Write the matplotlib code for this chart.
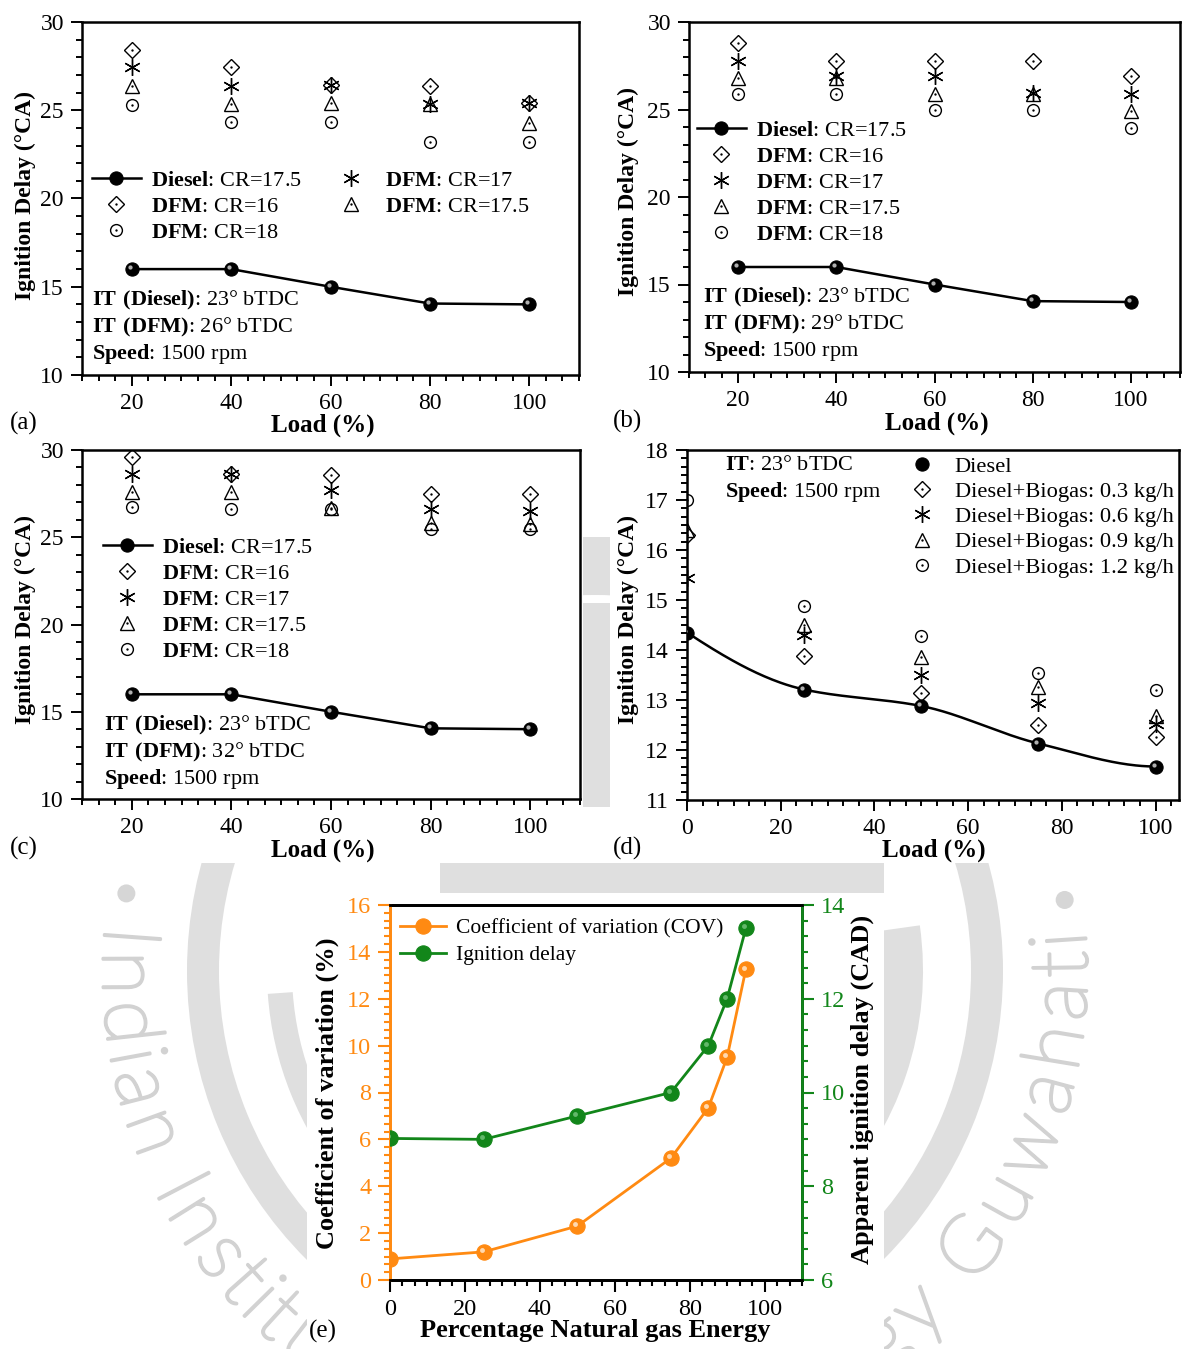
import numpy as np
import matplotlib
matplotlib.use('Agg')
import matplotlib.pyplot as plt
import matplotlib.patheffects as pe
from matplotlib.patches import Rectangle, Wedge, Circle
from matplotlib.ticker import MultipleLocator, AutoMinorLocator
from matplotlib.transforms import offset_copy
from matplotlib.textpath import TextToPath
from matplotlib.font_manager import FontProperties
from matplotlib.legend_handler import HandlerTuple

plt.rcParams['font.family'] = 'Liberation Serif'
plt.rcParams['mathtext.fontset'] = 'custom'
plt.rcParams['mathtext.rm'] = 'Liberation Serif'
plt.rcParams['mathtext.bf'] = 'Liberation Serif:bold'

W, H = 1182, 1349

##### (a)-(c): compression ratio sweep #####
load = [20, 40, 60, 80, 100]
diesel_cr175 = [16.0, 16.0, 15.0, 14.05, 14.0]

a_cr16 = [28.4, 27.45, 26.45, 26.4, 25.4]
a_cr17 = [27.45, 26.35, 26.45, 25.35, 25.4]
a_cr175 = [26.4, 25.35, 25.4, 25.35, 24.3]
a_cr18 = [25.3, 24.35, 24.35, 23.2, 23.2]

b_cr16 = [28.8, 27.8, 27.8, 27.8, 26.9]
b_cr17 = [27.8, 26.9, 26.9, 25.95, 25.9]
b_cr175 = [26.8, 26.8, 25.9, 25.9, 24.9]
b_cr18 = [25.9, 25.9, 24.95, 24.95, 23.95]

c_cr16 = [29.6, 28.65, 28.55, 27.5, 27.5]
c_cr17 = [28.6, 28.65, 27.7, 26.6, 26.5]
c_cr175 = [27.6, 27.6, 26.65, 25.8, 25.75]
c_cr18 = [26.75, 26.6, 26.6, 25.5, 25.5]

dfm_labels = ['CR=16', 'CR=17', 'CR=17.5', 'CR=18']
it_dfm = ['26', '29', '32']

##### (d): biogas flow #####
load_d = [0, 25, 50, 75, 100]
d_diesel = [14.35, 13.21, 12.88, 12.13, 11.67]
d_bg03 = [16.3, 13.88, 13.15, 12.51, 12.27]
d_bg06 = [15.45, 14.3, 13.51, 12.95, 12.53]
d_bg09 = [16.4, 14.51, 13.87, 13.27, 12.68]
d_bg12 = [17.0, 14.89, 14.28, 13.55, 13.21]
biogas_labels = ['0.3', '0.6', '0.9', '1.2']

##### (e): natural gas energy share #####
ng_energy = [0, 25, 50, 75, 85, 90, 95]
cov = [0.9, 1.2, 2.3, 5.2, 7.35, 9.5, 13.25]
ign_delay = [9.02, 9.0, 9.5, 10.0, 11.0, 12.0, 13.5]

ORANGE = '#ff8a12'
GREEN = '#12861a'
LEG_FS = 16

fig = plt.figure(figsize=(W / 100, H / 100), dpi=100)


def px_axes(l, t, r, b, **kw):
    return fig.add_axes([l / W, 1 - b / H, (r - l) / W, (b - t) / H], **kw)


def px_text(x, y, s, **kw):
    kw.setdefault('ha', 'center')
    kw.setdefault('va', 'center')
    return fig.text(x / W, 1 - y / H, s, **kw)


# background logo, drawn in pixel coordinates behind every panel
wm = px_axes(0, 0, W, H, zorder=-5)
wm.set_xlim(0, W)
wm.set_ylim(H, 0)
wm.axis('off')
GREY = '#dfdfdf'
cx, cy = 595, 971
wm.add_patch(Wedge((cx, cy), 408, 0, 360, width=32, color=GREY, lw=0))
wm.add_patch(Wedge((cx, cy), 328, 140, 176, width=25, color=GREY, lw=0))
wm.add_patch(Wedge((cx, cy), 328, -8, 45, width=40, color=GREY, lw=0))
wm.add_patch(Rectangle((583, 537), 27, 43, color=GREY, lw=0))
wm.add_patch(Rectangle((583, 603), 27, 204, color=GREY, lw=0))
wm.add_patch(Rectangle((440, 863), 444, 30, color=GREY, lw=0))

seal = 'Indian Institute of Technology Guwahati'
SEAL_C = '#d2d2d2'
fp = FontProperties(family='Lato', weight='light', size=58)
t2p = TextToPath()
widths = [t2p.get_text_width_height_descent(seal[:k + 1], fp, ismath=False)[0] for k in range(len(seal))]
centers = []
for k, ch in enumerate(seal):
    cw = t2p.get_text_width_height_descent(ch, fp, ismath=False)[0] if ch != ' ' else 0
    centers.append(widths[k] - cw / 2)
centers = np.array(centers)
phi = np.radians(184.2 + (centers - centers[0]) / (centers[-1] - centers[0]) * (-3.8 - 184.2))
r_base = 492
for ch, p in zip(seal, phi):
    if ch == ' ':
        continue
    wm.text(cx + r_base * np.cos(p), cy + r_base * np.sin(p), ch,
            rotation=np.degrees(np.arctan2(np.cos(p), np.sin(p))), rotation_mode='anchor',
            ha='center', va='baseline', fontproperties=fp, color=SEAL_C,
            path_effects=[pe.withStroke(linewidth=2.2, foreground=SEAL_C)])
for ang in (189.4, -8.6):
    a = np.radians(ang)
    wm.add_patch(Circle((cx + 475 * np.cos(a), cy + 475 * np.sin(a)), 9, color='#d6d6d6', lw=0))

# white card behind each panel
for (l, t, r, b) in [(0, 0, 591, 438), (589, 0, 1182, 438), (0, 437, 583, 863),
                     (610, 437, 1182, 863), (307, 893, 884, 1349)]:
    wm.add_patch(Rectangle((l, t), r - l, b - t, color='white', lw=0, zorder=3))


def ball(ax, x, y, color, light, ms=9.5, line=True, lw=1.8):
    h, = ax.plot(x, y, ls='-' if line else 'none', color=color, lw=lw, marker='o', ms=ms,
                 mfc=color, mec=color, mew=0.8, zorder=4)
    tr = offset_copy(ax.transData, fig=fig, x=-1.4, y=1.4, units='points')
    ax.plot(x, y, ls='none', marker='o', ms=ms * 0.32, mfc=light, mec='none',
            transform=tr, zorder=5)
    return h


def hollow(ax, x, y, marker, ms):
    h, = ax.plot(x, y, ls='none', marker=marker, ms=ms, mfc='none', mec='k', mew=1.0, zorder=3)
    d, = ax.plot(x, y, ls='none', marker='o', ms=1.7, mfc='k', mec='none', zorder=3)
    return (h, d)


def star(ax, x, y):
    h, = ax.plot(x, y, ls='none', marker=(6, 2, 0), ms=12, mec='k', mew=1.0, zorder=3)
    return h


def frame(ax, lw=1.8):
    for s in ax.spines.values():
        s.set_linewidth(lw)
    ax.tick_params(which='both', direction='out', width=1.4, top=False, right=False)
    ax.tick_params(which='major', length=8, labelsize=17, pad=5)
    ax.tick_params(axis='x', which='major', pad=5)
    ax.tick_params(which='minor', length=4.5)


def load_panel(box, cr16, cr17, cr175, cr18, ncol, leg_xy, note_xy, it, tag, ylab_y, tag_y):
    ax = px_axes(*box)
    frame(ax)
    ax.set_xlim(10, 110)
    ax.set_ylim(10, 30)
    ax.xaxis.set_major_locator(MultipleLocator(20))
    ax.xaxis.set_minor_locator(AutoMinorLocator(6))
    ax.yaxis.set_major_locator(MultipleLocator(5))
    ax.yaxis.set_minor_locator(AutoMinorLocator(5))
    h0 = ball(ax, load, diesel_cr175, 'k', '#b0b0b0')
    h16 = hollow(ax, load, cr16, 'D', 8)
    h17 = star(ax, load, cr17)
    h175 = hollow(ax, load, cr175, '^', 9.5)
    h18 = hollow(ax, load, cr18, 'o', 8.5)
    labels = [r'$\bf{Diesel}$: CR=17.5'] + [r'$\bf{DFM}$: ' + s for s in dfm_labels]
    handles = [h0, h16, h17, h175, h18]
    if ncol == 2:
        order = [0, 1, 4, 2, 3]
        handles = [handles[i] for i in order]
        labels = [labels[i] for i in order]
    ax.legend(handles, labels, ncol=ncol, loc='upper left', frameon=False,
              bbox_to_anchor=(leg_xy[0] / W, 1 - leg_xy[1] / H), bbox_transform=fig.transFigure,
              borderpad=0, borderaxespad=0, handlelength=2.2, handletextpad=0.45,
              labelspacing=0.25, columnspacing=1.1, numpoints=1, fontsize=LEG_FS,
              handler_map={tuple: HandlerTuple(ndivide=1)})
    nx, ny = note_xy
    notes = [r'$\bf{IT\ (Diesel)}$: 23° bTDC', r'$\bf{IT\ (DFM)}$: ' + it + '° bTDC',
             r'$\bf{Speed}$: 1500 rpm']
    for k, s in enumerate(notes):
        px_text(nx, ny + 27 * k, s, ha='left', fontsize=LEG_FS)
    l, t, r, b = box
    px_text(25 if l < 300 else 628, ylab_y, 'Ignition Delay (°CA)', rotation=90,
            fontsize=17, fontweight='bold')
    px_text((l + r) / 2 - 8 if l < 300 else (l + r) / 2 + 2, tag_y + 2, 'Load (%)',
            fontsize=18, fontweight='bold')
    px_text(24 if l < 300 else 627, tag_y, tag, fontsize=18)
    return ax


load_panel((82, 22, 579, 375), a_cr16, a_cr17, a_cr175, a_cr18, 2, (92, 170), (92, 300),
           it_dfm[0], '(a)', 195, 423)
load_panel((689, 22, 1180, 372), b_cr16, b_cr17, b_cr175, b_cr18, 1, (697, 120), (703, 297),
           it_dfm[1], '(b)', 192, 421)
load_panel((82, 450, 580, 799), c_cr16, c_cr17, c_cr175, c_cr18, 1, (103, 537), (104, 725),
           it_dfm[2], '(c)', 620, 848)

# (d) biogas panel with a smooth diesel trend line
ax = px_axes(687, 450, 1179, 800)
frame(ax)
ax.set_xlim(0, 105)
ax.set_ylim(11, 18)
ax.xaxis.set_major_locator(MultipleLocator(20))
ax.xaxis.set_minor_locator(AutoMinorLocator(6))
ax.yaxis.set_major_locator(MultipleLocator(1))
ax.yaxis.set_minor_locator(AutoMinorLocator(6))

xs = np.asarray(load_d, float)
ys = np.asarray(d_diesel, float)
hstep = np.diff(xs)
dd = np.diff(ys) / hstep
m = np.zeros_like(ys)
for k in range(1, len(xs) - 1):
    if dd[k - 1] * dd[k] > 0:
        w1 = 2 * hstep[k] + hstep[k - 1]
        w2 = hstep[k] + 2 * hstep[k - 1]
        m[k] = (w1 + w2) / (w1 / dd[k - 1] + w2 / dd[k])
m[0] = ((2 * hstep[0] + hstep[1]) * dd[0] - hstep[0] * dd[1]) / (hstep[0] + hstep[1])
m[-1] = 0.0
cx_d, cy_d = [], []
for k in range(len(xs) - 1):
    t = np.linspace(0, 1, 60)
    h00 = 2 * t**3 - 3 * t**2 + 1
    h10 = t**3 - 2 * t**2 + t
    h01 = -2 * t**3 + 3 * t**2
    h11 = t**3 - t**2
    cx_d.append(xs[k] + t * hstep[k])
    cy_d.append(h00 * ys[k] + h10 * hstep[k] * m[k] + h01 * ys[k + 1] + h11 * hstep[k] * m[k + 1])
ax.plot(np.concatenate(cx_d), np.concatenate(cy_d), color='k', lw=1.8, zorder=3)
hd = ball(ax, load_d, d_diesel, 'k', '#b0b0b0', line=False)
h03 = hollow(ax, load_d, d_bg03, 'D', 8)
h06 = star(ax, load_d, d_bg06)
h09 = hollow(ax, load_d, d_bg09, '^', 9.5)
h12 = hollow(ax, load_d, d_bg12, 'o', 8.5)
ax.legend([hd, h03, h06, h09, h12], ['Diesel'] + ['Diesel+Biogas: ' + s + ' kg/h' for s in biogas_labels],
          loc='upper left', frameon=False, bbox_to_anchor=(906 / W, 1 - 456 / H),
          bbox_transform=fig.transFigure, borderpad=0, borderaxespad=0, handlelength=1.45,
          handletextpad=0.72, labelspacing=0.2, numpoints=1, fontsize=16.2,
          handler_map={tuple: HandlerTuple(ndivide=1)})
px_text(725, 466, r'$\bf{IT}$: 23° bTDC', ha='left', fontsize=LEG_FS)
px_text(725, 492, r'$\bf{Speed}$: 1500 rpm', ha='left', fontsize=LEG_FS)
px_text(628, 620, 'Ignition Delay (°CA)', rotation=90, fontsize=17, fontweight='bold')
px_text(934, 850, 'Load (%)', fontsize=18, fontweight='bold')
px_text(627, 848, '(d)', fontsize=18)

# (e) COV and ignition delay against natural gas share
ax = px_axes(390, 905, 802, 1280)
ax2 = ax.twinx()
for a_ in (ax, ax2):
    for s in a_.spines.values():
        s.set_linewidth(2)
ax.spines['left'].set_color(ORANGE)
ax2.spines['left'].set_color(ORANGE)
ax2.spines['right'].set_color(GREEN)
ax.set_xlim(0, 110)
ax.set_ylim(0, 16)
ax2.set_ylim(6, 14)
ax.xaxis.set_major_locator(MultipleLocator(20))
ax.xaxis.set_minor_locator(AutoMinorLocator(6))
ax.yaxis.set_major_locator(MultipleLocator(2))
ax.yaxis.set_minor_locator(AutoMinorLocator(6))
ax2.yaxis.set_major_locator(MultipleLocator(2))
ax2.yaxis.set_minor_locator(AutoMinorLocator(6))
ax.tick_params(which='both', direction='out', width=1.5, top=False, right=False)
ax.tick_params(which='major', length=8.5, labelsize=17.5, pad=5)
ax.tick_params(which='minor', length=4.5)
ax.tick_params(axis='y', which='both', colors=ORANGE)
ax2.tick_params(which='both', direction='out', width=1.5, colors=GREEN)
ax2.tick_params(which='major', length=8.5, labelsize=17.5, pad=5)
ax2.tick_params(which='minor', length=4.5)
hc = ball(ax, ng_energy, cov, ORANGE, '#ffd9b0', ms=11, lw=2)
hg = ball(ax2, ng_energy, ign_delay, GREEN, '#63b86a', ms=11, lw=2)
ax2.legend([hc, hg], ['Coefficient of variation (COV)', 'Ignition delay'], loc='upper left',
           frameon=False, bbox_to_anchor=(400 / W, 1 - 918 / H), bbox_transform=fig.transFigure,
           borderpad=0, borderaxespad=0, handlelength=2.15, handletextpad=0.45,
           labelspacing=0.33, numpoints=1, fontsize=15.5)
px_text(327, 1093, 'Coefficient of variation (%)', rotation=90, fontsize=19, fontweight='bold')
px_text(862, 1089, 'Apparent ignition delay (CAD)', rotation=90, fontsize=19, fontweight='bold')
px_text(595, 1330, 'Percentage Natural gas Energy', fontsize=19, fontweight='bold')
px_text(323, 1331, '(e)', fontsize=18)

fig.savefig('out.png', dpi=100)
